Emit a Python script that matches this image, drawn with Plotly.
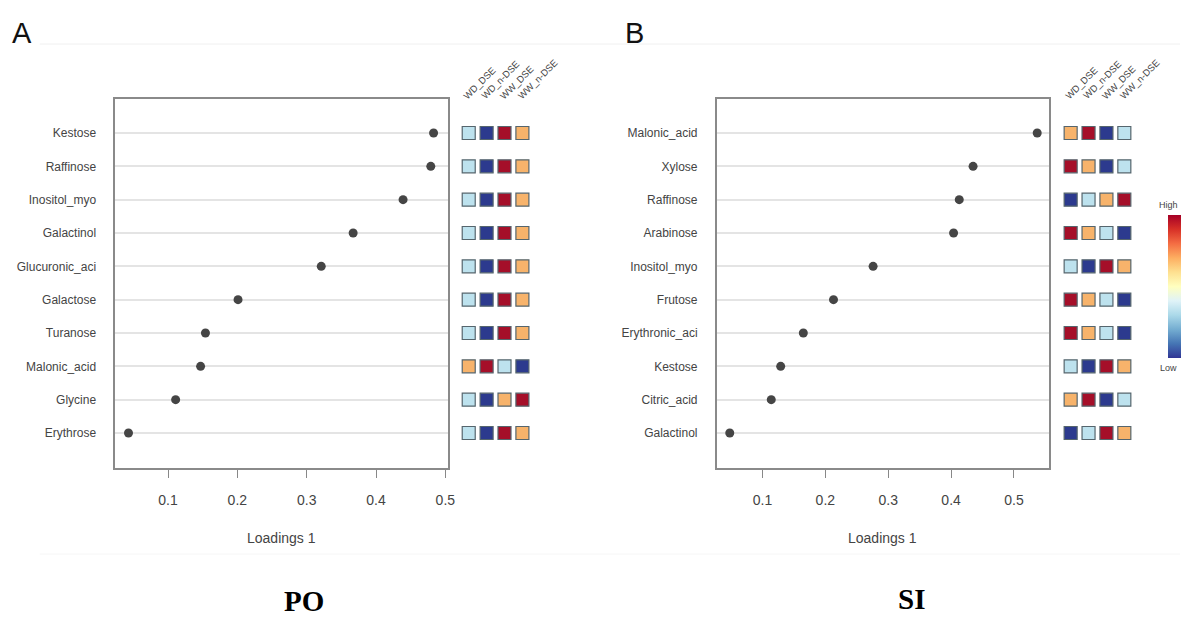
import plotly.graph_objects as go

W, H = 1187, 620

# ---- data -------------------------------------------------------------
groups = ["WD_DSE", "WD_n-DSE", "WW_DSE", "WW_n-DSE"]

po_compounds = ["Kestose", "Raffinose", "Inositol_myo", "Galactinol", "Glucuronic_aci",
                "Galactose", "Turanose", "Malonic_acid", "Glycine", "Erythrose"]
po_loadings = [0.483, 0.479, 0.439, 0.367, 0.321, 0.201, 0.154, 0.147, 0.111, 0.043]
# relative level per group: 1 = lowest ... 4 = highest
po_levels = [
    [2, 1, 4, 3], [2, 1, 4, 3], [2, 1, 4, 3], [2, 1, 4, 3], [2, 1, 4, 3],
    [2, 1, 4, 3], [2, 1, 4, 3], [3, 4, 2, 1], [2, 1, 3, 4], [2, 1, 4, 3],
]

si_compounds = ["Malonic_acid", "Xylose", "Raffinose", "Arabinose", "Inositol_myo",
                "Frutose", "Erythronic_aci", "Kestose", "Citric_acid", "Galactinol"]
si_loadings = [0.537, 0.435, 0.413, 0.404, 0.276, 0.213, 0.165, 0.129, 0.114, 0.048]
si_levels = [
    [3, 4, 1, 2], [4, 3, 1, 2], [1, 2, 3, 4], [4, 3, 2, 1], [2, 1, 4, 3],
    [4, 3, 2, 1], [4, 3, 2, 1], [2, 1, 4, 3], [3, 4, 1, 2], [1, 2, 4, 3],
]

level_colors = {1: "#2c3a8e", 2: "#bde2ee", 3: "#f7b36b", 4: "#a50f29"}

# ---- helpers ----------------------------------------------------------
def px_x(a, b):
    return [a / W, b / W]

def px_y(top, bottom):
    return [1 - bottom / H, 1 - top / H]

TXT = "#444444"
FONT = "Liberation Sans, Arial, sans-serif"
SERIF = "Liberation Serif, Times New Roman, serif"

fig = go.Figure()


def label(xp, yp, text, size, color=TXT, family=FONT, **kw):
    """Text placed at pixel position (xp, yp) measured from the top-left."""
    opts = dict(xanchor="center", yanchor="middle")
    opts.update(kw)
    fig.add_annotation(x=xp / W, y=1 - yp / H, xref="paper", yref="paper",
                       text=text, showarrow=False,
                       font=dict(size=size, color=color, family=family), **opts)


panels = [
    # compounds, loadings, levels, main x-domain px, x-range, heat x-domain px, axis suffixes
    (po_compounds, po_loadings, po_levels, (116, 451), [0.0240, 0.5043], (462.5, 534.5), ("", "2")),
    (si_compounds, si_loadings, si_levels, (721, 1055), [0.0273, 0.5554], (1068, 1140), ("3", "4")),
]

Y_TOP, Y_BOT = 99, 468
YRANGE = [10.05, -1.02]

for comps, loads, levels, (mx0, mx1), xr, (hx0, hx1), (ma, ha) in panels:
    n = len(comps)
    rows = list(range(n))
    # loadings dot plot
    fig.add_trace(go.Scatter(
        x=loads, y=rows, mode="markers",
        marker=dict(size=9, color="#454545"),
        xaxis="x" + ma, yaxis="y" + ma, showlegend=False, hoverinfo="x+text",
        text=comps,
    ))
    # group level squares
    hx, hy, hc = [], [], []
    for r, lv in enumerate(levels):
        for c, v in enumerate(lv):
            hx.append(c)
            hy.append(r)
            hc.append(level_colors[v])
    fig.add_trace(go.Scatter(
        x=hx, y=hy, mode="markers",
        marker=dict(symbol="square", size=13, color=hc,
                    line=dict(color="#55656d", width=1.2)),
        xaxis="x" + ha, yaxis="y" + ha, showlegend=False, hoverinfo="skip",
    ))

    fig.layout["xaxis" + ma] = dict(
        domain=px_x(mx0, mx1), range=xr, anchor="y" + ma,
        tickvals=[0.1, 0.2, 0.3, 0.4, 0.5], ticktext=["0.1", "0.2", "0.3", "0.4", "0.5"],
        ticks="outside", ticklen=8, tickwidth=1.2, tickcolor="#888888",
        ticklabelstandoff=10,
        showline=True, linecolor="#8a8a8a", linewidth=1.6, mirror=True,
        showgrid=False, zeroline=False,
        tickfont=dict(size=14, color=TXT, family=FONT),
    )
    fig.layout["yaxis" + ma] = dict(
        domain=px_y(Y_TOP, Y_BOT), range=YRANGE, anchor="x" + ma,
        tickvals=rows, ticktext=comps, ticks="", ticklabelstandoff=15,
        showline=True, linecolor="#8a8a8a", linewidth=1.6, mirror=True,
        showgrid=True, gridcolor="#e4e4e4", gridwidth=1.5, zeroline=False,
        tickfont=dict(size=12, color=TXT, family=FONT),
    )
    fig.layout["xaxis" + ha] = dict(
        domain=px_x(hx0, hx1), range=[-0.5, 3.5], anchor="y" + ha,
        visible=False,
    )
    fig.layout["yaxis" + ha] = dict(
        domain=px_y(Y_TOP, Y_BOT), range=YRANGE, anchor="x" + ha,
        visible=False,
    )

    # rotated group headers, one per square column
    step = (hx1 - hx0) / len(groups)
    for c, g in enumerate(groups):
        label(hx0 + step * c - 1, 104, g, 9.5, textangle=-45,
              xanchor="left", yanchor="bottom")

    # x-axis title
    label((mx0 + mx1) / 2, 538, "Loadings 1", 14)

# colour key
fig.add_trace(go.Scatter(
    x=[None], y=[None], mode="markers", xaxis="x4", yaxis="y4", showlegend=False,
    marker=dict(color=[0], cmin=0, cmax=1, colorscale="RdYlBu_r", showscale=True,
                colorbar=dict(
                    x=1175 / W, xanchor="left", y=1 - 286.5 / H, yanchor="middle",
                    thickness=13, thicknessmode="pixels", len=143, lenmode="pixels",
                    outlinewidth=0, ticks="", showticklabels=False, xpad=0, ypad=0,
                )),
))
label(1175, 205, "High", 9)
label(1175, 368, "Low", 9)

# panel letters and site names
label(22, 33, "A", 29, color="#111111")
label(638, 33, "B", 29, color="#111111")
label(306, 601, "<b>PO</b>", 29, color="#000000", family=SERIF)
label(917, 599, "<b>SI</b>", 29, color="#000000", family=SERIF)

# faint separator rules
fig.add_shape(type="line", xref="paper", yref="paper", x0=40 / W, x1=1, y0=1 - 44 / H, y1=1 - 44 / H,
              line=dict(color="#f0f0f0", width=1))
fig.add_shape(type="line", xref="paper", yref="paper", x0=40 / W, x1=1, y0=1 - 554 / H, y1=1 - 554 / H,
              line=dict(color="#f6f6f6", width=1))

fig.update_layout(
    width=W, height=H,
    margin=dict(l=0, r=0, t=0, b=0),
    paper_bgcolor="white", plot_bgcolor="white",
    font=dict(family=FONT, color=TXT),
)

fig.write_html("out.html")
